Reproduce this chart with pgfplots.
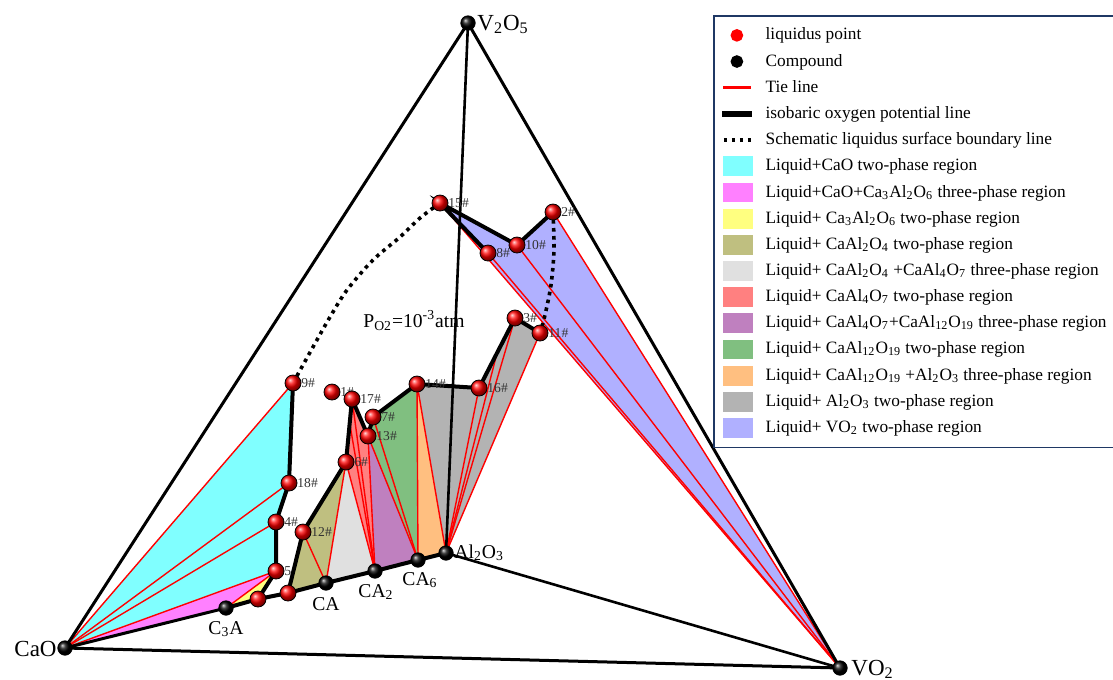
\documentclass[border=0pt]{standalone}
\usepackage{pgfplots}
\pgfplotsset{compat=1.18}
\usepackage{fontspec}
\setmainfont{Liberation Serif}
\newcommand{\sub}[1]{\textsubscript{#1}}
\definecolor{cyanF}{RGB}{128,255,255}
\definecolor{pinkF}{RGB}{255,128,255}
\definecolor{yelF}{RGB}{255,255,128}
\definecolor{oliveF}{RGB}{191,191,128}
\definecolor{lgrayF}{RGB}{224,224,224}
\definecolor{salF}{RGB}{255,128,128}
\definecolor{purF}{RGB}{191,128,191}
\definecolor{greenF}{RGB}{128,191,128}
\definecolor{oranF}{RGB}{255,191,128}
\definecolor{grayF}{RGB}{179,179,179}
\definecolor{blueF}{RGB}{176,176,255}
\definecolor{navy}{RGB}{31,56,100}
\newcommand{\ptf}{\fontsize{6.8bp}{8bp}\selectfont}
\newcommand{\cpf}{\fontsize{9.8bp}{11bp}\selectfont}
\newcommand{\vxf}{\fontsize{11.5bp}{13bp}\selectfont}
\newcommand{\lgbox}{\path[draw=none,fill=none] (0bp,-4.6bp) rectangle (17bp,4.6bp);}
\pgfplotsset{
  sw/.style={legend image code/.code={\lgbox\fill[#1] (3bp,-4.5bp) rectangle (17bp,4.5bp);}},
}
\begin{document}
\begin{tikzpicture}
\begin{axis}[at={(0,0)},anchor=south west,
  width=556.5bp,height=340bp,scale only axis,
  xmin=0,xmax=1113,ymin=0,ymax=680,y dir=reverse,
  hide axis,clip=false,
  legend cell align=left,
  legend style={at={(axis description cs:0.6406,0.978)},anchor=north west,
    draw=navy,line width=0.9bp,fill=white,
    font=\fontsize{8.65bp}{10.5bp}\selectfont,
    row sep=1.6bp,column sep=4bp,inner xsep=2bp,inner ysep=4bp},
]
% ---------- filled regions ----------
\addplot[fill=cyanF,draw=none,forget plot] coordinates {(65,648)(293,383)(289,483)(276,522)(276,571)} -- cycle;
\addplot[fill=pinkF,draw=none,forget plot] coordinates {(65,648)(276,571)(226,608)} -- cycle;
\addplot[fill=yelF,draw=none,forget plot] coordinates {(226,608)(276,571)(258,599)} -- cycle;
\addplot[fill=oliveF,draw=none,forget plot] coordinates {(288,593)(303,532)(346,462)(326,583)} -- cycle;
\addplot[fill=lgrayF,draw=none,forget plot] coordinates {(326,583)(346,462)(375,571)} -- cycle;
\addplot[fill=salF,draw=none,forget plot] coordinates {(346,462)(352,399)(368,436)(375,571)} -- cycle;
\addplot[fill=purF,draw=none,forget plot] coordinates {(375,571)(368,436)(418,560)} -- cycle;
\addplot[fill=greenF,draw=none,forget plot] coordinates {(368,436)(373,417)(417,384)(418,560)} -- cycle;
\addplot[fill=oranF,draw=none,forget plot] coordinates {(418,560)(417,384)(446,553)} -- cycle;
\addplot[fill=grayF,draw=none,forget plot] coordinates {(446,553)(417,384)(479,388)(515,318)(540,333)} -- cycle;
\addplot[fill=blueF,draw=none,forget plot] coordinates {(440,203)(517,245)(553,212)(840,668)} -- cycle;
% ---------- tie lines ----------
\pgfplotsset{tie/.style={red,line width=0.7bp,forget plot}}
\addplot[tie] coordinates {(65,648)(293,383)};
\addplot[tie] coordinates {(65,648)(289,483)};
\addplot[tie] coordinates {(65,648)(276,522)};
\addplot[tie] coordinates {(65,648)(276,571)};
\addplot[tie] coordinates {(226,608)(276,571)};
\addplot[tie] coordinates {(303,532)(326,583)};
\addplot[tie] coordinates {(346,462)(326,583)};
\addplot[tie] coordinates {(346,462)(375,571)};
\addplot[tie] coordinates {(350,425)(375,571)};
\addplot[tie] coordinates {(352,399)(375,571)};
\addplot[tie] coordinates {(368,436)(375,571)};
\addplot[tie] coordinates {(368,436)(418,560)};
\addplot[tie] coordinates {(373,417)(418,560)};
\addplot[tie] coordinates {(417,384)(418,560)};
\addplot[tie] coordinates {(417,384)(446,553)};
\addplot[tie] coordinates {(479,388)(446,553)};
\addplot[tie] coordinates {(497,353)(446,553)};
\addplot[tie] coordinates {(515,318)(446,553)};
\addplot[tie] coordinates {(540,333)(446,553)};
\addplot[tie] coordinates {(440,203)(840,668)};
\addplot[tie] coordinates {(488,253)(840,668)};
\addplot[tie] coordinates {(517,245)(840,668)};
\addplot[tie] coordinates {(553,212)(840,668)};
% ---------- main triangle ----------
\addplot[black,line width=1.5bp,forget plot] coordinates {(65,648)(468,23)(840,668)(65,648)};
\addplot[black,line width=1.3bp,forget plot] coordinates {(468,23)(446,553)(840,668)};
\addplot[black,line width=1.5bp,forget plot] coordinates {(65,648)(226,608)};
% ---------- isobaric oxygen potential lines ----------
\pgfplotsset{iso/.style={black,line width=2bp,forget plot}}
\addplot[iso] coordinates {(226,608)(258,599)(288,593)(326,583)(375,571)(418,560)(446,553)};
\addplot[iso] coordinates {(293,383)(289,483)(276,522)(276,571)(258,599)};
\addplot[iso] coordinates {(288,593)(303,532)(346,462)(352,399)(368,436)(373,417)(417,384)(479,388)(515,318)(540,333)};
\addplot[iso] coordinates {(488,253)(440,203)(517,245)(553,212)};
% ---------- schematic boundary lines ----------
\pgfplotsset{dots/.style={black,line width=1.8bp,dash pattern=on 1.8bp off 2.2bp,smooth,forget plot}}
\addplot[dots] coordinates {(293,383)(313,347)(330,317)(347,290)(373,260)(400,237)(420,218)(440,203)};
\addplot[dots] coordinates {(553,212)(554,250)(551,285)(545,315)(540,333)};
% ---------- points ----------
\addplot[only marks,mark=ball,ball color=red,mark size=4bp,forget plot] coordinates {
(332,392)(553,212)(515,318)(276,522)(276,571)(346,462)(373,417)(488,253)(293,383)
(517,245)(540,333)(303,532)(368,436)(417,384)(440,203)(479,388)(352,399)(289,483)
(258,599)(288,593)};
\addplot[only marks,mark=ball,ball color=black,mark size=3.6bp,forget plot] coordinates {
(65,648)(468,23)(840,668)(226,608)(326,583)(375,571)(418,560)(446,553)};
% ---------- labels ----------
\begin{scope}[every node/.style={font=\ptf,text=black!80,anchor=west,inner sep=0.5bp}]
\node at (axis cs:339,392) {1\#};
\node at (axis cs:560,212) {2\#};
\node at (axis cs:522,318) {3\#};
\node at (axis cs:283,522) {4\#};
\node at (axis cs:283,571) {5};
\node at (axis cs:353,462) {6\#};
\node at (axis cs:380,417) {7\#};
\node at (axis cs:495,253) {8\#};
\node at (axis cs:300,383) {9\#};
\node at (axis cs:524,245) {10\#};
\node at (axis cs:547,333) {11\#};
\node at (axis cs:310,532) {12\#};
\node at (axis cs:375,436) {13\#};
\node at (axis cs:424,384) {14\#};
\node at (axis cs:447,203) {15\#};
\node at (axis cs:486,388) {16\#};
\node at (axis cs:359,399) {17\#};
\node at (axis cs:296,483) {18\#};
\end{scope}
\begin{scope}[every node/.style={font=\cpf,inner sep=0pt}]
\node[anchor=base] at (axis cs:226,634) {C\sub{3}A};
\node[anchor=base] at (axis cs:326,610) {CA};
\node[anchor=base] at (axis cs:376,597) {CA\sub{2}};
\node[anchor=base] at (axis cs:420,585) {CA\sub{6}};
\node[anchor=base west] at (axis cs:454,558) {Al\sub{2}O\sub{3}};
\node[anchor=base west] at (axis cs:363,327) {P\sub{O2}=10\textsuperscript{-3}atm};
\end{scope}
\begin{scope}[every node/.style={font=\vxf,inner sep=0pt}]
\node[anchor=base west] at (axis cs:477,30) {V\sub{2}O\sub{5}};
\node[anchor=base east] at (axis cs:57,656) {CaO};
\node[anchor=base west] at (axis cs:851,675) {VO\sub{2}};
\end{scope}
% ---------- legend ----------
\addlegendimage{legend image code/.code={\lgbox\fill[red] (9.5bp,0bp) circle (2.7bp);}}
\addlegendentry{liquidus point}
\addlegendimage{legend image code/.code={\lgbox\fill[black] (9.5bp,0bp) circle (2.7bp);}}
\addlegendentry{Compound}
\addlegendimage{legend image code/.code={\lgbox\fill[red] (3bp,-0.4bp) rectangle (16bp,0.4bp);}}
\addlegendentry{Tie line}
\addlegendimage{legend image code/.code={\lgbox\fill[black] (2.5bp,-0.9bp) rectangle (16.5bp,0.9bp);}}
\addlegendentry{isobaric oxygen potential line}
\addlegendimage{legend image code/.code={\lgbox\draw[draw=black,line width=1.8bp,dash pattern=on 1.8bp off 2.2bp] (3bp,0bp) -- (17bp,0bp);}}
\addlegendentry{Schematic liquidus surface boundary line}
\addlegendimage{sw=cyanF}
\addlegendentry{Liquid+CaO two-phase region}
\addlegendimage{sw=pinkF}
\addlegendentry{Liquid+CaO+Ca\sub{3}Al\sub{2}O\sub{6} three-phase region}
\addlegendimage{sw=yelF}
\addlegendentry{Liquid+ Ca\sub{3}Al\sub{2}O\sub{6} two-phase region}
\addlegendimage{sw=oliveF}
\addlegendentry{Liquid+ CaAl\sub{2}O\sub{4} two-phase region}
\addlegendimage{sw=lgrayF}
\addlegendentry{Liquid+ CaAl\sub{2}O\sub{4} +CaAl\sub{4}O\sub{7} three-phase region}
\addlegendimage{sw=salF}
\addlegendentry{Liquid+ CaAl\sub{4}O\sub{7} two-phase region}
\addlegendimage{sw=purF}
\addlegendentry{Liquid+ CaAl\sub{4}O\sub{7}+CaAl\sub{12}O\sub{19} three-phase region}
\addlegendimage{sw=greenF}
\addlegendentry{Liquid+ CaAl\sub{12}O\sub{19} two-phase region}
\addlegendimage{sw=oranF}
\addlegendentry{Liquid+ CaAl\sub{12}O\sub{19} +Al\sub{2}O\sub{3} three-phase region}
\addlegendimage{sw=grayF}
\addlegendentry{Liquid+ Al\sub{2}O\sub{3} two-phase region}
\addlegendimage{sw=blueF}
\addlegendentry{Liquid+ VO\sub{2} two-phase region}
\end{axis}
\pgfresetboundingbox
\useasboundingbox (0,0) rectangle (556.5bp,340bp);
\end{tikzpicture}
\end{document}
